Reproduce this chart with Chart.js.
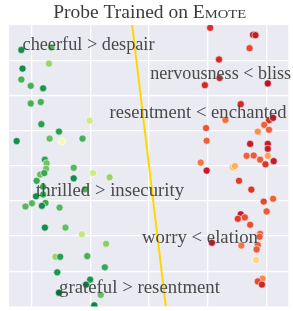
<!DOCTYPE html>
<html>
<head>
<meta charset="utf-8">
<script src="https://cdn.jsdelivr.net/npm/chart.js@4.4.0/dist/chart.umd.min.js"></script>
<style>
  html, body { margin: 0; padding: 0; background: #fff; }
  #wrap { width: 293px; height: 311px; }
</style>
</head>
<body>
<div id="wrap"><canvas id="chart"></canvas></div>
<script>
// positive-pair points (green side)
const greenX = [-2.17, -1.66, -1.70, -2.15, -2.17, -2.01, -1.80, -2.01, -1.84, -1.83,
  -1.01, -1.53, -2.25, -1.69, -1.48, -1.13, -1.77, -1.74, -1.75, -1.85,
  -1.78, -1.28, -0.95, -0.67, -1.91, -1.28, -1.09, -1.80, -1.92, -1.80,
  -1.76, -1.99, -2.10, -1.82, -1.52, -1.77, -1.42, -1.14, -0.73, -1.59,
  -1.51, -1.05, -0.75, -1.56, -1.00, -1.07, -1.53, -0.82, -0.93];
const greenY = [3.29, 3.36, 2.90, 2.76, 2.45, 2.27, 2.20, 1.77, 1.81, 1.18,
  1.28, 0.97, 0.70, 0.77, 0.69, 0.77, 0.17, 0.07, -0.09, -0.25,
  -0.21, -0.06, -0.21, -0.33, -0.43, -0.36, -0.67, -0.60, -0.87, -0.82,
  -1.06, -1.07, -1.16, -1.14, -1.19, -1.76, -1.76, -1.95, -2.22, -2.59,
  -2.59, -2.57, -2.89, -3.03, -3.24, -3.38, -3.61, -3.67, -3.97];
const greenScore = [0.92, 0.82, 0.72, 0.92, 0.84, 0.84, 0.90, 0.84, 0.84, 0.88,
  0.62, 0.88, 0.92, 0.80, 0.53, 0.84, 0.88, 0.78, 0.78, 0.80,
  0.86, 0.82, 0.62, 0.72, 0.86, 0.92, 0.84, 0.86, 0.92, 0.86,
  0.86, 0.82, 0.82, 0.92, 0.82, 0.92, 0.80, 0.64, 0.74, 0.72,
  0.88, 0.84, 0.86, 0.90, 0.90, 0.95, 0.98, 0.80, 0.94];

// negative-pair points (red side)
const redX = [1.04, 1.77, 1.81, 1.71, 1.19, 1.20, 0.95, 2.02, 1.56, 1.30,
  2.04, 2.11, 1.96, 0.97, 1.85, 2.04, 0.98, 1.72, 2.02, 2.02,
  1.66, 1.78, 2.02, 1.89, 2.12, 1.98, 0.88, 0.98, 1.42, 1.46,
  1.53, 1.74, 1.95, 2.11, 2.00, 1.56, 1.51, 1.63, 1.72, 1.07,
  1.89, 1.88, 1.85, 1.57, 1.83, 1.82, 1.93, 1.85, 1.92];
const redY = [3.92, 3.72, 3.71, 3.34, 3.02, 2.49, 2.29, 2.34, 1.75, 1.30,
  1.29, 1.36, 1.16, 1.07, 0.97, 1.02, 0.71, 0.62, 0.62, 0.48,
  0.28, 0.29, 0.28, 0.17, 0.13, 0.04, 0.09, -0.14, -0.05, -0.01,
  -0.43, -0.68, -1.02, -0.94, -1.30, -1.38, -1.51, -1.47, -1.68, -2.19,
  -1.94, -2.02, -2.26, -2.27, -2.38, -2.68, -3.21, -3.29, -3.38];
const redScore = [0.10, 0.04, 0.06, 0.14, 0.09, 0.09, 0.09, 0.04, 0.09, 0.20,
  0.10, 0.05, 0.18, 0.16, 0.25, 0.18, 0.18, 0.06, 0.06, 0.06,
  0.18, 0.17, 0.28, 0.17, 0.06, 0.11, 0.21, 0.06, 0.34, 0.30,
  0.12, 0.11, 0.14, 0.18, 0.17, 0.06, 0.12, 0.15, 0.15, 0.05,
  0.17, 0.17, 0.18, 0.21, 0.17, 0.38, 0.24, 0.14, 0.08];

// probe decision boundary
const boundaryX = [-0.286, 0.286];
const boundaryY = [4, -4];

const xTicks = [-2, -1, 0, 1, 2];
const yTicks = [-3, -2, -1, 0, 1, 2, 3];

const pairLabels = ["cheerful > despair", "nervousness < bliss", "resentment < enchanted",
  "thrilled > insecurity", "worry < elation", "grateful > resentment"];
const pairLabelX = [-2.15, 0.02, -0.67, -1.92, -0.12, -1.53];
const pairLabelY = [3.29, 2.47, 1.36, -0.85, -2.21, -3.63];

// rendering layout (px)
const pairLabelWidth = [132, 141, 177, 148, 116, 161];

const rdylgn = ["#a50026", "#d73027", "#f46d43", "#fdae61", "#fee08b", "#ffffbf",
  "#d9ef8b", "#a6d96a", "#66bd63", "#1a9850", "#006837"];

function hexToRgb(h) {
  return [parseInt(h.slice(1, 3), 16), parseInt(h.slice(3, 5), 16), parseInt(h.slice(5, 7), 16)];
}

function cmap(t) {
  const pos = Math.min(Math.max(t, 0), 1) * (rdylgn.length - 1);
  const i = Math.min(Math.floor(pos), rdylgn.length - 2);
  const f = pos - i;
  const a = hexToRgb(rdylgn[i]);
  const b = hexToRgb(rdylgn[i + 1]);
  const c = a.map((v, k) => Math.round(v + (b[k] - v) * f));
  return `rgb(${c[0]}, ${c[1]}, ${c[2]})`;
}

const toPoints = (xs, ys) => xs.map((x, i) => ({ x: x, y: ys[i] }));

function drawScaled(ctx, text, x, y, width, font) {
  ctx.font = font;
  const w = ctx.measureText(text).width;
  ctx.save();
  ctx.translate(x, y);
  ctx.scale(width / w, 1);
  ctx.fillText(text, 0, 0);
  ctx.restore();
}

const panelPlugin = {
  id: "panel",
  beforeDraw(chart) {
    const { ctx, chartArea } = chart;
    ctx.save();
    ctx.fillStyle = "#eaeaf2";
    ctx.fillRect(chartArea.left, chartArea.top, chartArea.right - chartArea.left, chartArea.bottom - chartArea.top);
    ctx.restore();
  },
  afterDraw(chart) {
    const { ctx, chartArea, scales } = chart;
    ctx.save();
    ctx.textBaseline = "alphabetic";
    ctx.textAlign = "left";

    // title with small caps
    const big = '18px "Liberation Serif"';
    const small = '13.5px "Liberation Serif"';
    const parts = [["Probe Trained on ", big], ["E", big], ["MOTE", small]];
    let total = 0;
    parts.forEach(([t, f]) => { ctx.font = f; total += ctx.measureText(t).width; });
    const titleW = 193;
    const sx = titleW / total;
    let x = (chartArea.left + chartArea.right) / 2 + 1 - titleW / 2;
    ctx.fillStyle = "#3c3c3c";
    parts.forEach(([t, f]) => {
      ctx.font = f;
      const w = ctx.measureText(t).width;
      ctx.save();
      ctx.translate(x, 18);
      ctx.scale(sx, 1);
      ctx.fillText(t, 0, 0);
      ctx.restore();
      x += w * sx;
    });

    ctx.fillStyle = "#4a4a4a";
    pairLabels.forEach((t, i) => {
      const px = scales.x.getPixelForValue(pairLabelX[i]);
      const py = scales.y.getPixelForValue(pairLabelY[i]);
      drawScaled(ctx, t, px, py, pairLabelWidth[i], '18px "Liberation Serif"');
    });
    ctx.restore();
  }
};

const gridOpts = { color: "#ffffff", lineWidth: 1.3, drawTicks: false };

new Chart(document.getElementById("chart"), {
  type: "scatter",
  data: {
    datasets: [
      {
        label: "positive",
        data: toPoints(greenX, greenY),
        pointRadius: 3.6,
        pointBackgroundColor: greenScore.map(cmap),
        pointBorderColor: "#ffffff",
        pointBorderWidth: 0.6
      },
      {
        label: "negative",
        data: toPoints(redX, redY),
        pointRadius: 3.6,
        pointBackgroundColor: redScore.map(cmap),
        pointBorderColor: "#ffffff",
        pointBorderWidth: 0.6
      },
      {
        label: "boundary",
        data: toPoints(boundaryX, boundaryY),
        showLine: true,
        pointRadius: 0,
        borderColor: "#ffd700",
        borderWidth: 2
      }
    ]
  },
  options: {
    responsive: true,
    maintainAspectRatio: false,
    animation: false,
    devicePixelRatio: 1,
    layout: { padding: { left: 9, right: 1, top: 25, bottom: 4 } },
    plugins: {
      legend: { display: false },
      tooltip: { enabled: false },
      title: { display: false }
    },
    scales: {
      x: {
        type: "linear",
        min: -2.38,
        max: 2.37,
        afterBuildTicks: (axis) => { axis.ticks = xTicks.map((v) => ({ value: v })); },
        ticks: { display: false },
        grid: gridOpts,
        border: { display: false }
      },
      y: {
        type: "linear",
        min: -4,
        max: 4,
        afterBuildTicks: (axis) => { axis.ticks = yTicks.map((v) => ({ value: v })); },
        ticks: { display: false },
        grid: gridOpts,
        border: { display: false }
      }
    }
  },
  plugins: [panelPlugin]
});
</script>
</body>
</html>
